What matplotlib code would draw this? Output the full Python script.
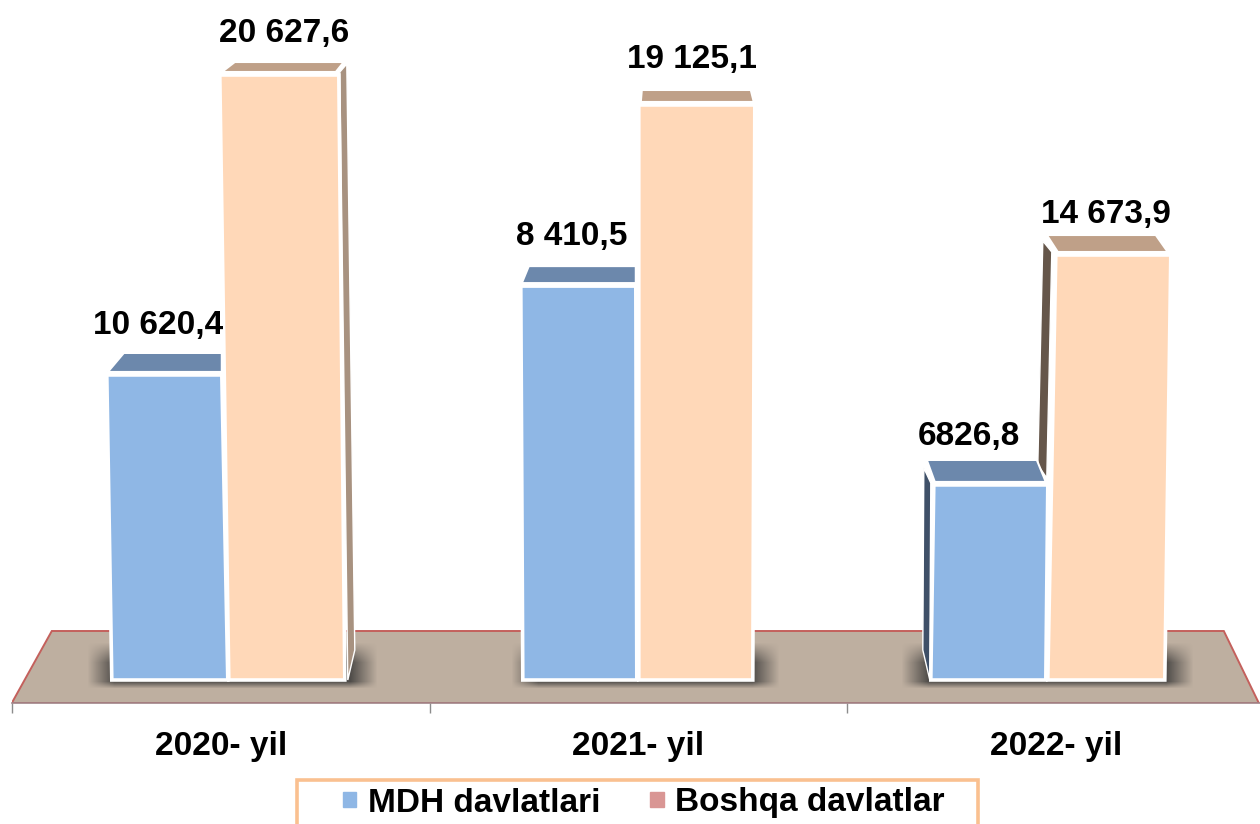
import numpy as np
import matplotlib
matplotlib.use('Agg')
import matplotlib.pyplot as plt
from matplotlib.patches import Patch, Rectangle

plt.rcParams['font.family'] = ['Liberation Sans', 'DejaVu Sans']

categories = ['2020- yil', '2021- yil', '2022- yil']
series_names = ['MDH davlatlari', 'Boshqa davlatlar']
mdh_labels = ['10 620,4', '8 410,5', '6826,8']
other_labels = ['20 627,6', '19 125,1', '14 673,9']
# bar heights as drawn in the picture (2021 blue is not to scale in the original)
mdh_heights = [10400, 13430, 6650]
other_heights = [20627, 19605, 14490]

W, H = 1260, 824
BLUE, PEACH = '#8FB7E5', '#FFD8B8'
K = 605 / 20627      # px per value
STEP = 417.6         # px per category

fig = plt.figure(figsize=(W / 100, H / 100), dpi=100)
ax = fig.add_axes([12 / W, (H - 703) / H, STEP * 3 / W, 703 / H])
ax.patch.set_visible(False)
xlim = (-0.5, 2.5)
ylim = (-23 / K, 680 / K)


def dx(px):
    return (px - 221) / STEP


def dy(py):
    return (680 - py) / K


def poly(pts, color, z, edge='white', lw=2.6):
    ax.fill([dx(p[0]) for p in pts], [dy(p[1]) for p in pts], facecolor=color,
            edgecolor=edge, linewidth=lw, joinstyle='miter', zorder=z)


# floor
poly([(12, 703), (52, 631), (1224, 631), (1259, 703)], '#BEAFA0', 1, edge='#C4605C', lw=1.4)


# blurred shadows under each pair of bars
for x0, x1 in [(114, 350), (538, 752), (928, 1166)]:
    xx, yy = np.meshgrid(np.arange(x0 - 40, x1 + 40), np.arange(632, 700))
    a = (np.clip((xx - x0 + 27) / 27, 0, 1) * np.clip((x1 + 27 - xx) / 27, 0, 1)
         * np.clip((yy - 642) / 20, 0, 1) * np.clip((688 - yy) / 7, 0, 1))
    img = np.zeros(xx.shape + (4,))
    img[..., :3] = 0.2
    img[..., 3] = a * 0.8
    ax.imshow(img, extent=(dx(x0 - 40), dx(x1 + 40), dy(700), dy(632)), aspect='auto',
              interpolation='bilinear', zorder=2)

# x px of front face: top-left, top-right, bottom-left, bottom-right
mdh_x = [(107, 222, 112, 228), (521, 636, 523, 637), (934, 1048, 931, 1046)]
other_x = [(220, 339, 229, 345), (639, 755, 639, 753), (1056, 1171, 1048, 1165)]

for i in range(3):
    tl, tr, bl, br = mdh_x[i]
    ty = 680 - mdh_heights[i] * K
    if i == 2:
        poly([(924, ty - 17), (931, ty - 2), (930, 680), (923, 650)], '#3F5068', 3, lw=1)
    poly([(bl, 680), (br, 680), (tr, ty), (tl, ty)], BLUE, 6)
    off = [(17, 21), (8, 19), (-7, 24)][i]
    poly([(tl + 1, ty - 3), (tl + off[0], ty - off[1] - 1), (tr + [0, 0, -11][i], ty - off[1] - 1),
          (tr + [0, 0, -2][i], ty - 3)], '#6C88AC', 4, lw=1.5)

    tl, tr, bl, br = other_x[i]
    ty = 680 - other_heights[i] * K
    if i == 0:
        poly([(340, ty - 3), (347, ty - 11), (355, 650), (348, 680)], '#A89280', 3, lw=1)
    if i == 2:
        poly([(1043, ty - 14), (1052, ty - 3), (1047, 478), (1038, 465)], '#65564A', 3, lw=1)
    poly([(bl, 680), (br, 680), (tr, ty), (tl, ty)], PEACH, 7)
    off = [(15, 13), (3, 15), (-9, 20)][i]
    poly([(tl + 2, ty - 3), (tl + off[0], ty - off[1]), (tr + [5, -4, -15][i], ty - off[1]),
          (tr + [-3, -1, -3][i], ty - 3)], '#BFA088', 4, lw=1.5)

# data labels
mdh_pos = [(158, 325), (572, 236), (969, 436)]
other_pos = [(284, 33), (692, 59), (1106, 214)]
for lab, p in zip(mdh_labels + other_labels, mdh_pos + other_pos):
    ax.text(dx(p[0]), dy(p[1]), lab, ha='center', va='center', fontsize=24,
            fontweight='bold', color='black', zorder=10)

ax.set_xlim(xlim)
ax.set_ylim(ylim)
ax.set_yticks([])
ax.set_xticks(range(3))
ax.set_xticklabels(categories, fontsize=24, fontweight='bold')
ax.tick_params(axis='x', which='major', length=0, pad=20.5)
ax.set_xticks([-0.5, 0.5, 1.5, 2.5], minor=True)
ax.tick_params(axis='x', which='minor', length=7.5, width=1, color='#8c8c8c')
for s in ['top', 'left', 'right']:
    ax.spines[s].set_visible(False)
ax.spines['bottom'].set_color('#A08488')
ax.spines['bottom'].set_linewidth(1.2)

# legend, box runs off the bottom of the picture
fig.add_artist(Rectangle((297 / W, -0.02), 681 / W, 0.02 + (H - 780) / H, transform=fig.transFigure,
                         facecolor='white', edgecolor='#FAC090', linewidth=2.6))
handles = [Patch(color=BLUE), Patch(color='#D99694')]
leg = fig.legend(handles, series_names, loc='center', bbox_to_anchor=(644 / W, (H - 803) / H),
                 ncol=2, frameon=False, prop={'size': 24, 'weight': 'bold'},
                 handlelength=0.4, handleheight=0.32, handletextpad=0.35, columnspacing=1.5)

fig.savefig('out.png', dpi=100)
